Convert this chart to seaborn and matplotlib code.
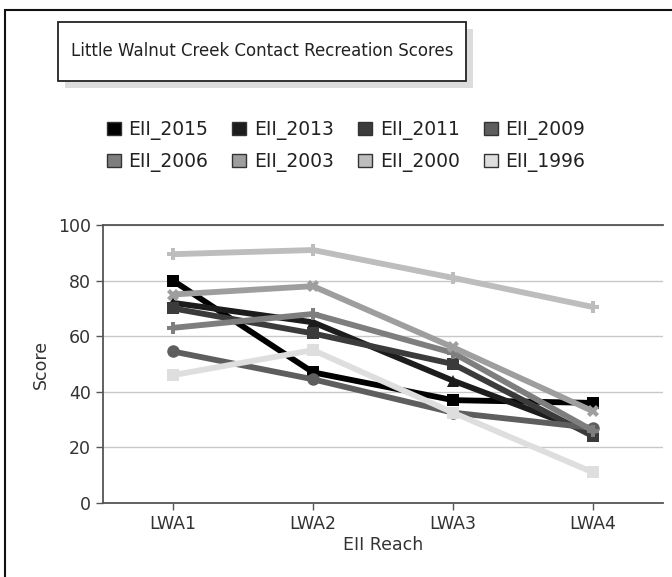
import pandas as pd
import matplotlib.pyplot as plt
import seaborn as sns
from matplotlib.patches import Rectangle, Patch

# values
reaches = ["LWA1", "LWA2", "LWA3", "LWA4"]
eii_2015 = [80, 47, 37, 36]
eii_2013 = [72, 65, 44, 25]
eii_2011 = [70, 61, 50, 24]
eii_2009 = [54.5, 44.5, 32.5, 27]
eii_2006 = [63, 68, 54, 26]
eii_2003 = [75, 78, 56, 33]
eii_2000 = [89.5, 91, 81, 70.5]
eii_1996 = [46, 55, 32.5, 11]

series_names = ["EII_2015", "EII_2013", "EII_2011", "EII_2009",
                "EII_2006", "EII_2003", "EII_2000", "EII_1996"]
series_values = [eii_2015, eii_2013, eii_2011, eii_2009,
                 eii_2006, eii_2003, eii_2000, eii_1996]
greys = ["#000000", "#1c1c1c", "#3b3b3b", "#5e5e5e",
         "#7e7e7e", "#9e9e9e", "#bdbdbd", "#dedede"]
marker_list = ["s", "^", "s", "o", "P", "X", "P", "s"]

rows = []
for name, vals in zip(series_names, series_values):
    for r, v in zip(reaches, vals):
        rows.append({"reach": r, "score": v, "series": name})
df = pd.DataFrame(rows)

sns.set_style("white")
plt.rcParams['font.family'] = ['DejaVu Sans']

W, H = 672, 577
fig = plt.figure(figsize=(W / 100, H / 100), dpi=100)
ax = fig.add_axes([103 / W, 1 - 503 / H, 560 / W, 278 / H])

sns.lineplot(data=df, x="reach", y="score", hue="series", style="series",
             hue_order=series_names, style_order=series_names,
             palette=dict(zip(series_names, greys)),
             markers=dict(zip(series_names, marker_list)), dashes=False,
             linewidth=4.2, markersize=9, markeredgewidth=0,
             sort=False, legend=False, ax=ax)

ax.set_xlim(-0.5, 3.5)
ax.set_ylim(0, 100)
ax.set_yticks([0, 20, 40, 60, 80, 100])
ax.yaxis.grid(True, color="#c8c8c8", linewidth=1)
ax.set_axisbelow(True)
ax.spines["right"].set_visible(False)
for side in ["left", "bottom", "top"]:
    ax.spines[side].set_color("#555555")
    ax.spines[side].set_linewidth(1.3)
ax.tick_params(axis="both", direction="out", length=5, width=1,
               color="#555555", labelsize=12.5, labelcolor="#333333",
               left=True, bottom=True)
ax.set_xlabel("EII Reach", fontsize=12.5, color="#333333", labelpad=2)
ax.set_ylabel("Score", fontsize=12.5, color="#333333", labelpad=6)

# outer chart frame (cropped)
fig.patches.append(Rectangle((5 / W, -0.1), 1.2, 1.1 - 10 / H, transform=fig.transFigure,
                             fill=False, edgecolor="#111111", linewidth=1.5))

# title box with shadow
bx0, by0, bx1, by1 = 58, 22, 466, 81
fig.patches.append(Rectangle(((bx0 + 7) / W, 1 - (by1 + 7) / H), (bx1 - bx0) / W,
                             (by1 - by0) / H, transform=fig.transFigure,
                             facecolor="#dcdcdc", edgecolor="none"))
fig.patches.append(Rectangle((bx0 / W, 1 - by1 / H), (bx1 - bx0) / W,
                             (by1 - by0) / H, transform=fig.transFigure,
                             facecolor="white", edgecolor="#222222", linewidth=1.3))
fig.text((bx0 + bx1) / 2 / W, 1 - (by0 + by1) / 2 / H,
         "Little Walnut Creek Contact Recreation Scores",
         ha="center", va="center", fontsize=12, color="#222222")

# legend filled row by row (matplotlib fills columns first)
ncol = 4
order = [i + ncol * j for i in range(ncol) for j in range(2)]
handles = [Patch(facecolor=greys[k], edgecolor="#333333", linewidth=1) for k in order]
labels = [series_names[k] for k in order]
fig.legend(handles, labels, ncol=ncol, loc="center",
           bbox_to_anchor=(346 / W, 1 - 146 / H), frameon=False,
           fontsize=13.5, handlelength=0.75, handleheight=0.75,
           handletextpad=0.4, columnspacing=1.3, labelspacing=0.65,
           labelcolor="#222222")

fig.savefig("out.png", dpi=100)
